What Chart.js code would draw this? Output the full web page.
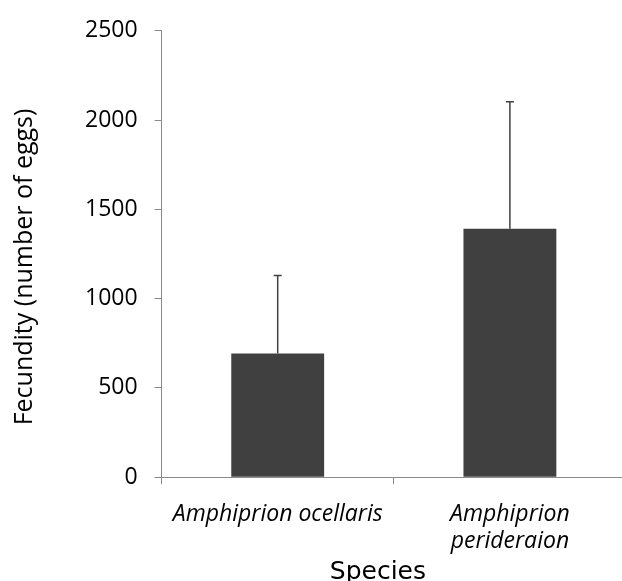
<!DOCTYPE html>
<html>
<head>
<meta charset="utf-8">
<script src="https://cdn.jsdelivr.net/npm/chart.js@4/dist/chart.umd.min.js"></script>
<style>
  html, body { margin: 0; padding: 0; background: #fff; overflow: hidden; }
  #wrap { width: 626px; height: 611px; }
</style>
</head>
<body>
<div id="wrap"><canvas id="barChart" width="626" height="611"></canvas></div>
<script>
//Data
const species = ['Amphiprion ocellaris', ['Amphiprion', 'perideraion']];
const fecundity = [692, 1392];
const fecundityErr = [437, 710];
const yMax = 2500;
const yStep = 500;

const axisGrey = '#8a8a8a';
const barGrey = '#404040';

//Error bars (upper only) drawn on top of the bars
const errorBars = {
  id: 'errorBars',
  afterDatasetsDraw(chart) {
    const ctx = chart.ctx;
    const yScale = chart.scales.y;
    const meta = chart.getDatasetMeta(0);
    ctx.save();
    ctx.strokeStyle = barGrey;
    ctx.lineWidth = 1.5;
    meta.data.forEach(function (bar, i) {
      const top = yScale.getPixelForValue(fecundity[i] + fecundityErr[i]);
      ctx.beginPath();
      ctx.moveTo(bar.x, bar.y);
      ctx.lineTo(bar.x, top);
      ctx.moveTo(bar.x - 4, top);
      ctx.lineTo(bar.x + 4, top);
      ctx.stroke();
    });
    ctx.restore();
  }
};

const config = {
  type: 'bar',
  data: {
    labels: species,
    datasets: [{
      data: fecundity,
      backgroundColor: barGrey,
      borderWidth: 0,
      barPercentage: 0.4,
      categoryPercentage: 1.0
    }]
  },
  options: {
    responsive: false,
    animation: false,
    layout: { padding: { top: 25, right: 0, bottom: 0, left: 0 } },
    plugins: {
      legend: { display: false },
      tooltip: { enabled: false }
    },
    scales: {
      x: {
        border: { color: axisGrey, width: 1 },
        grid: { drawOnChartArea: false, drawTicks: true, tickLength: 7, color: axisGrey, offset: true },
        ticks: {
          color: '#000',
          padding: 17,
          maxRotation: 0,
          font: { family: 'Open Sans', size: 23, style: 'italic', lineHeight: 1.17 }
        },
        title: {
          display: true,
          // trailing spaces nudge the centred title left, as in the original
          text: 'Species    ',
          color: '#000',
          font: { family: 'DejaVu Sans', size: 25, lineHeight: 1.2 },
          padding: { top: -15, bottom: 24 }
        }
      },
      y: {
        min: 0,
        max: yMax,
        border: { color: axisGrey, width: 1 },
        grid: { drawOnChartArea: false, drawTicks: true, tickLength: 7, color: axisGrey },
        ticks: {
          stepSize: yStep,
          color: '#000',
          padding: 17,
          font: { family: 'Open Sans', size: 23 },
          callback: function (value) { return String(value); }
        },
        title: {
          display: true,
          text: 'Fecundity (number of eggs)    ',
          color: '#000',
          font: { family: 'Open Sans', size: 25, lineHeight: 1.2 },
          padding: { top: 10, bottom: 28 }
        }
      }
    }
  },
  plugins: [errorBars]
};

var chart = new Chart(document.getElementById('barChart'), config);
</script>
</body>
</html>
